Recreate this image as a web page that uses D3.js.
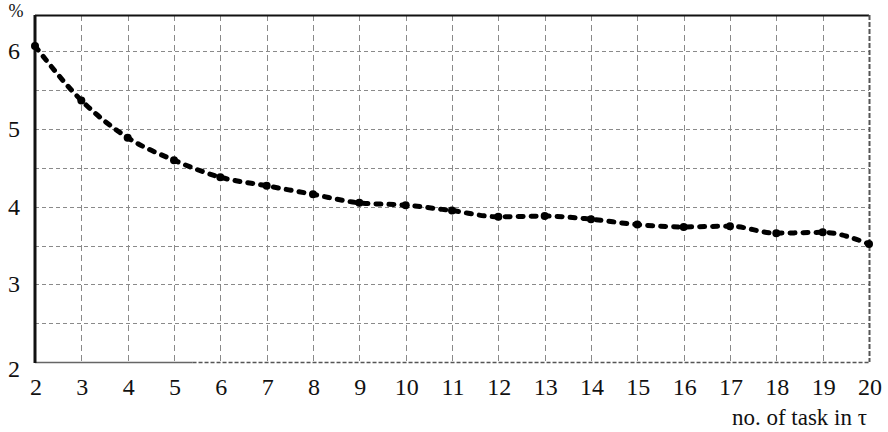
<!DOCTYPE html>
<html lang="en">
<head>
<meta charset="UTF-8">
<script src="https://d3js.org/d3.v7.min.js"></script>
<style>
  body { margin: 0; background: #fff; }
  #plot { width: 888px; height: 432px; }
</style>
</head>
<body>
<div id="plot"></div>
<script>
// values
var tasks = [2, 3, 4, 5, 6, 7, 8, 9, 10, 11, 12, 13, 14, 15, 16, 17, 18, 19, 20];
var percent = [6.07, 5.37, 4.89, 4.60, 4.38, 4.27, 4.16, 4.05, 4.02, 3.95, 3.87, 3.88, 3.84, 3.77, 3.74, 3.75, 3.66, 3.67, 3.52];
var yTicks = [2, 3, 4, 5, 6];
var yGrid = [2.5, 3, 3.5, 4, 4.5, 5, 5.5, 6];
var xLabel = "no. of task in \u03c4";
var yUnit = "%";

var width = 888, height = 432;
var plotLeft = 35, plotRight = 869, plotTop = 15, plotBottom = 362;
var serif = "'Liberation Serif', 'DejaVu Serif', serif";

var svg = d3.select("#plot").append("svg")
    .attr("width", width)
    .attr("height", height);

var x = d3.scaleLinear().domain([2, 20]).range([plotLeft, plotRight]);
var y = d3.scaleLinear().domain([2, 6.47]).range([plotBottom, plotTop]);

// grid
var grid = svg.append("g")
    .attr("stroke", "#8a8a8a")
    .attr("stroke-width", 1)
    .attr("stroke-dasharray", "4,3");

grid.selectAll("line.h")
  .data(yGrid)
  .join("line")
    .attr("class", "h")
    .attr("x1", plotLeft).attr("x2", plotRight)
    .attr("y1", d => Math.round(y(d)) + 0.5)
    .attr("y2", d => Math.round(y(d)) + 0.5);

grid.selectAll("line.v")
  .data(tasks.slice(1, -1))
  .join("line")
    .attr("class", "v")
    .attr("x1", d => Math.round(x(d)) + 0.5)
    .attr("x2", d => Math.round(x(d)) + 0.5)
    .attr("y1", plotTop).attr("y2", plotBottom)
    .attr("stroke-dasharray", "6,4");

// frame
svg.append("line")
    .attr("x1", plotLeft).attr("x2", plotRight)
    .attr("y1", plotTop + 0.5).attr("y2", plotTop + 0.5)
    .attr("stroke", "#111").attr("stroke-width", 2);

svg.append("line")
    .attr("x1", plotRight + 0.5).attr("x2", plotRight + 0.5)
    .attr("y1", plotTop).attr("y2", plotBottom)
    .attr("stroke", "#555").attr("stroke-width", 2)
    .attr("stroke-dasharray", "5,2");

svg.append("line")
    .attr("x1", plotLeft).attr("x2", x(5.4))
    .attr("y1", plotBottom + 0.5).attr("y2", plotBottom + 0.5)
    .attr("stroke", "#666").attr("stroke-width", 1.5);

svg.append("line")
    .attr("x1", x(5.4)).attr("x2", plotRight)
    .attr("y1", plotBottom + 0.5).attr("y2", plotBottom + 0.5)
    .attr("stroke", "#555").attr("stroke-width", 1.5)
    .attr("stroke-dasharray", "4,2");

svg.append("line")
    .attr("x1", plotLeft).attr("x2", plotLeft)
    .attr("y1", plotTop).attr("y2", plotBottom + 1)
    .attr("stroke", "#111").attr("stroke-width", 3);

// axis labels
svg.append("g")
  .selectAll("text")
  .data(yTicks)
  .join("text")
    .attr("x", 14)
    .attr("y", d => y(d) + (d === 2 ? 15 : 8))
    .attr("text-anchor", "middle")
    .style("font-family", serif)
    .style("font-size", "24px")
    .style("fill", "#111")
    .text(d => d);

svg.append("g")
  .selectAll("text")
  .data(tasks)
  .join("text")
    .attr("x", d => x(d) + 1)
    .attr("y", 395)
    .attr("text-anchor", "middle")
    .style("font-family", serif)
    .style("font-size", "24px")
    .style("fill", "#111")
    .text(d => d);

svg.append("text")
    .attr("x", 16)
    .attr("y", 17)
    .attr("text-anchor", "middle")
    .style("font-family", serif)
    .style("font-size", "18px")
    .style("fill", "#111")
    .text(yUnit);

svg.append("text")
    .attr("x", plotRight - 2)
    .attr("y", 425)
    .attr("text-anchor", "end")
    .style("font-family", serif)
    .style("font-size", "23px")
    .style("fill", "#111")
    .text(xLabel);

// series
var line = d3.line()
    .x((d, i) => x(tasks[i]))
    .y(d => y(d))
    .curve(d3.curveMonotoneX);

svg.append("path")
    .datum(percent)
    .attr("fill", "none")
    .attr("stroke", "#000")
    .attr("stroke-width", 5)
    .attr("stroke-linecap", "round")
    .attr("stroke-dasharray", "5,8")
    .attr("d", line);

svg.append("g")
  .selectAll("circle")
  .data(percent)
  .join("circle")
    .attr("cx", (d, i) => x(tasks[i]))
    .attr("cy", d => y(d))
    .attr("r", 4)
    .attr("fill", "#000");
</script>
</body>
</html>
